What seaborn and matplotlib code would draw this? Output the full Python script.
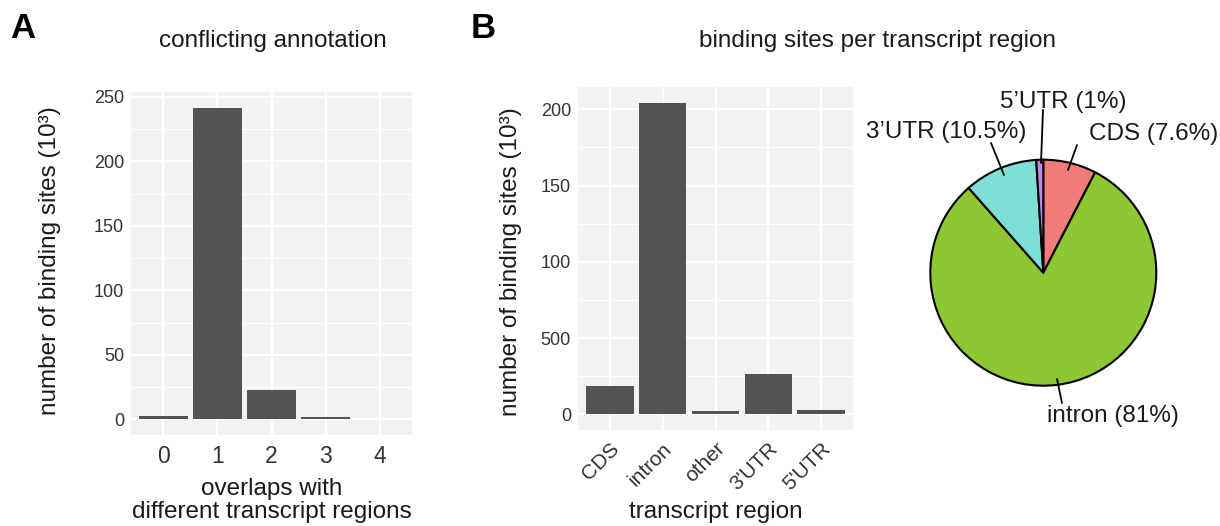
import matplotlib
matplotlib.use("Agg")
import matplotlib.pyplot as plt
import seaborn as sns
import pandas as pd
import numpy as np

sns.set_theme(style="white")
plt.rcParams['font.family'] = ['Liberation Sans', 'DejaVu Sans']

# ---- data ----
overlap_cats = ["0", "1", "2", "3", "4"]
overlap_vals = [2.5, 241.7, 22.4, 2.2, 0.6]          # x10^3 binding sites

region_cats = ["CDS", "intron", "other", "3'UTR", "5'UTR"]
region_vals = [18.5, 204.4, 2.3, 26.4, 2.8]          # x10^3 binding sites
region_yticks = [0, 50, 100, 150, 200]
region_yticklabels = ["0", "500", "100", "150", "200"]

pie_labels = ["CDS", "intron", "3\u2019UTR", "5\u2019UTR"]
pie_pcts = [7.6, 81, 10.5, 1]
pie_colors = ["#F07B78", "#8EC731", "#7FDFD6", "#B98BE6"]

BAR = "#545352"
BG = "#F2F2F2"
TXT = "#1a1a1a"
TICKTXT = "#333333"
FS = 17.5

W, H = 1220, 526
fig = plt.figure(figsize=(W / 100, H / 100), dpi=100)


def px_axes(left, top, right, bottom):
    return fig.add_axes([left / W, 1 - bottom / H, (right - left) / W, (bottom - top) / H])


def style_ax(ax, ymin, ymax, majors):
    ax.set_facecolor(BG)
    for s in ax.spines.values():
        s.set_visible(False)
    ax.set_yticks(majors)
    step = majors[1] - majors[0]
    minors = [m + step / 2 for m in majors]
    ax.set_yticks(minors, minor=True)
    ax.set_xlim(-0.6, 4.6)
    ax.set_ylim(ymin, ymax)
    ax.grid(which="major", color="white", linewidth=1.6)
    ax.grid(which="minor", axis="y", color="white", linewidth=0.8)
    ax.set_axisbelow(True)
    ax.tick_params(axis="y", which="minor", length=0)


# ---- panel A ----
axA = px_axes(131, 92, 412, 435)
dfA = pd.DataFrame({"overlaps": overlap_cats, "n": overlap_vals})
sns.barplot(data=dfA, x="overlaps", y="n", color=BAR, width=0.9, saturation=1,
            linewidth=0, ax=axA, zorder=3)
style_ax(axA, -12.1, 253.8, [0, 50, 100, 150, 200, 250])
axA.tick_params(axis="y", which="major", length=3, width=1, color=TICKTXT,
                labelsize=13, labelcolor=TICKTXT, pad=2)
axA.tick_params(axis="x", length=0, labelsize=16.5, labelcolor=TICKTXT, pad=7)
axA.set_ylabel("number of binding sites (10\u00b3)", fontsize=FS, color=TXT)
axA.yaxis.set_label_coords(-0.288, 0.507)
axA.yaxis.label.set_va("center")
axA.set_xlabel("overlaps with\ndifferent transcript regions", fontsize=FS, color=TXT,
               linespacing=1.05)
axA.xaxis.set_label_coords(0.502, -0.19)
axA.xaxis.label.set_va("center")

# ---- panel B ----
axB = px_axes(578, 87, 853, 430)
dfB = pd.DataFrame({"region": region_cats, "n": region_vals})
sns.barplot(data=dfB, x="region", y="n", color=BAR, width=0.9, saturation=1,
            linewidth=0, ax=axB, zorder=3)
style_ax(axB, -10.2, 214.6, region_yticks)
axB.set_yticklabels(region_yticklabels)
axB.tick_params(axis="y", which="major", length=3, width=1.5, color=TICKTXT,
                labelsize=13, labelcolor=TICKTXT, pad=2)
axB.tick_params(axis="x", length=2.5, width=1.5, color=TICKTXT, labelsize=15,
                labelcolor=TICKTXT, pad=4)
for lab in axB.get_xticklabels():
    lab.set_rotation(45)
    lab.set_ha("right")
    lab.set_rotation_mode("anchor")
axB.set_ylabel("number of binding sites (10\u00b3)", fontsize=FS, color=TXT)
axB.yaxis.set_label_coords(-0.245, 0.49)
axB.yaxis.label.set_va("center")
axB.set_xlabel("transcript region", fontsize=FS, color=TXT)
axB.xaxis.set_label_coords(0.5, -0.239)
axB.xaxis.label.set_va("center")

# ---- pie ----
R = 113.0
cx, cy = 1043.3, 272.7
S = 360
axP = px_axes(cx - S / 2, cy - S / 2, cx + S / 2, cy + S / 2)
axP.pie(pie_pcts, colors=pie_colors, startangle=90, counterclock=False, radius=1,
        wedgeprops=dict(edgecolor="black", linewidth=1.5))
lim = (S / 2) / R
axP.set_xlim(-lim, lim)
axP.set_ylim(-lim, lim)
axP.set_aspect("equal")
axP.axis("off")


def d(px, py):
    return ((px - cx) / R, (cy - py) / R)


label_pos = {
    "CDS": ((1154, 134), (1068, 170), (1077, 145)),
    "intron": ((1113, 416), (1057, 379), (1062, 403)),
    "3\u2019UTR": ((946, 132), (1004, 175), (991, 143)),
    "5\u2019UTR": ((1063, 102), (1041, 163), (1043, 110)),
}
for lab, pct in zip(pie_labels, pie_pcts):
    tpos, p0, p1 = label_pos[lab]
    pct_txt = f"{pct:g}%"
    x0, y0 = d(*p0)
    x1, y1 = d(*p1)
    axP.plot([x0, x1], [y0, y1], color="black", lw=1.3, clip_on=False)
    tx, ty = d(*tpos)
    axP.text(tx, ty, f"{lab} ({pct_txt})", ha="center", va="center", fontsize=FS,
             color=TXT, clip_on=False)

# ---- panel titles / letters ----
fig.text(272.5 / W, 1 - 41 / H, "conflicting annotation", ha="center",
         va="center", fontsize=FS, color=TXT)
fig.text(877 / W, 1 - 41 / H, "binding sites per transcript region", ha="center",
         va="center", fontsize=FS, color=TXT)
fig.text(23 / W, 1 - 28 / H, "A", ha="center", va="center", fontsize=25,
         fontweight="bold", color="black")
fig.text(483 / W, 1 - 28 / H, "B", ha="center", va="center", fontsize=25,
         fontweight="bold", color="black")

fig.savefig("out.png", dpi=100)
